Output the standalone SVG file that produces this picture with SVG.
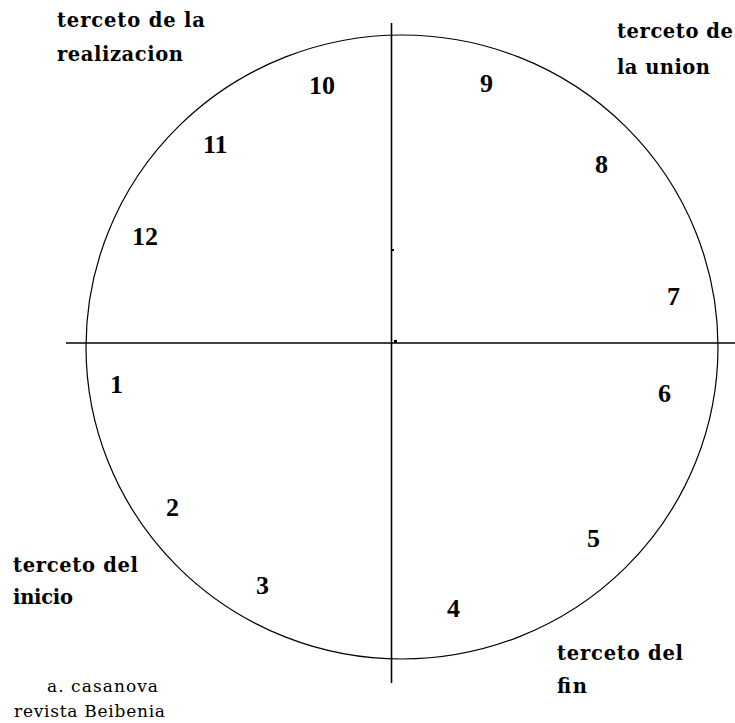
<svg xmlns="http://www.w3.org/2000/svg" width="735" height="723" viewBox="0 0 735 723">
<style>
.lbl{font-family:"DejaVu Serif","Liberation Serif",serif;font-weight:bold;font-size:19.5px;fill:#000}
.num{font-family:"Liberation Serif","Times New Roman",serif;font-weight:bold;font-size:26px;fill:#000}
.cred{font-family:"DejaVu Serif","Liberation Serif",serif;font-size:17px;fill:#000}
.ln{stroke:#000;stroke-width:1.6;fill:none}
</style>
<rect width="735" height="723" fill="#fff"/>
<g id="circle"><ellipse cx="402" cy="347" rx="316" ry="312" fill="none" stroke="#000" stroke-width="1.2"/></g>
<g id="connectors">
<line class="ln" x1="391.5" y1="23" x2="391.5" y2="683"/>
<line class="ln" x1="66" y1="343" x2="735" y2="343"/>
<rect x="394" y="340" width="3" height="3" fill="#000"/>
<rect x="392" y="249" width="2" height="2" fill="#000"/>
</g>
<g id="numbers">
<text class="num" x="309" y="94">10</text>
<text class="num" x="480" y="92">9</text>
<text class="num" x="203" y="153">11</text>
<text class="num" x="595" y="173">8</text>
<text class="num" x="132" y="245">12</text>
<text class="num" x="667" y="305">7</text>
<text class="num" x="110" y="393">1</text>
<text class="num" x="658" y="402">6</text>
<text class="num" x="166" y="516">2</text>
<text class="num" x="587" y="547">5</text>
<text class="num" x="256" y="594">3</text>
<text class="num" x="447" y="617">4</text>
</g>
<g id="label-realizacion">
<text class="lbl" x="57" y="27" textLength="148" lengthAdjust="spacing">terceto de la</text>
<text class="lbl" x="57" y="61" textLength="126" lengthAdjust="spacing">realizacion</text>
</g>
<g id="label-union">
<text class="lbl" x="617" y="38" textLength="116" lengthAdjust="spacing">terceto de</text>
<text class="lbl" x="617" y="74" textLength="93" lengthAdjust="spacing">la union</text>
</g>
<g id="label-inicio">
<text class="lbl" x="13" y="572" textLength="125" lengthAdjust="spacing">terceto del</text>
<text class="lbl" x="13" y="604" textLength="60" lengthAdjust="spacing">inicio</text>
</g>
<g id="label-fin">
<text class="lbl" x="557" y="660" textLength="126" lengthAdjust="spacing">terceto del</text>
<text class="lbl" x="557" y="693" textLength="30" lengthAdjust="spacing">fin</text>
</g>
<g id="credit">
<text class="cred" x="47" y="692" textLength="111" lengthAdjust="spacing">a. casanova</text>
<text class="cred" x="14" y="717" textLength="151" lengthAdjust="spacing">revista Beibenia</text>
</g>
</svg>
